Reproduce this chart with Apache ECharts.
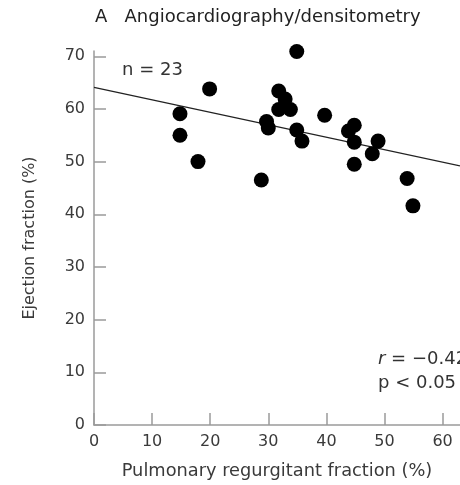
<!DOCTYPE html>
<html>
<head>
<meta charset="utf-8">
<script src="https://cdn.jsdelivr.net/npm/echarts@6/dist/echarts.min.js"></script>
<style>html,body{margin:0;padding:0;background:#fff}#c{width:460px;height:485px}</style>
</head>
<body>
<div id="c"></div>
<script>
// Pulmonary regurgitant fraction (%)
const prf = [19.9, 34.9, 14.8, 14.8, 17.9, 31.8, 32.9, 31.8, 33.8, 29.7, 30.0, 34.9, 35.8, 39.7, 44.8, 43.8, 44.8, 48.9, 47.9, 44.8, 53.9, 28.8, 54.9];
// Ejection fraction (%)
const ef  = [63.8, 70.9, 59.1, 55.0, 50.0, 63.4, 61.9, 59.9, 59.9, 57.6, 56.4, 56.0, 53.9, 58.8, 56.9, 55.8, 53.7, 53.9, 51.5, 49.5, 46.8, 46.5, 41.6];
// Regression line endpoints
const fitX = [0, 63];
const fitY = [64.1, 49.2];
const xTicks = [0, 10, 20, 30, 40, 50, 60];
const yTicks = [0, 10, 20, 30, 40, 50, 60, 70];

const FONT = 'DejaVu Sans';
const chart = echarts.init(document.getElementById('c'), null, {renderer: 'canvas'});
const axisCol = '#9a9a9a';
const txtCol = '#3a3a3a';
chart.setOption({
  animation: false,
  backgroundColor: '#fff',
  textStyle: {fontFamily: FONT},
  grid: {left: 94, right: 0, top: 51, bottom: 59, containLabel: false},
  xAxis: {
    type: 'value', min: 0, max: 63, interval: 10,
    name: 'Pulmonary regurgitant fraction (%)', nameLocation: 'middle', nameGap: 37,
    nameTextStyle: {fontFamily: FONT, fontSize: 17.8, color: txtCol},
    axisLine: {lineStyle: {color: axisCol, width: 1.5}},
    axisTick: {inside: true, length: 12, customValues: xTicks, lineStyle: {color: axisCol, width: 1.5}},
    axisLabel: {fontFamily: FONT, fontSize: 16, color: txtCol, margin: 9, customValues: xTicks,
      formatter: v => xTicks.includes(v) ? String(v) : ''},
    splitLine: {show: false}
  },
  yAxis: {
    type: 'value', min: 0, max: 71, interval: 10,
    name: 'Ejection fraction (%)', nameLocation: 'middle', nameGap: 56, nameRotate: 90,
    nameTextStyle: {fontFamily: FONT, fontSize: 16, color: txtCol},
    axisLine: {lineStyle: {color: axisCol, width: 1.5}},
    axisTick: {inside: true, length: 12, customValues: yTicks, lineStyle: {color: axisCol, width: 1.5}},
    axisLabel: {fontFamily: FONT, fontSize: 16, color: txtCol, margin: 9, customValues: yTicks,
      formatter: v => yTicks.includes(v) ? String(v) : ''},
    splitLine: {show: false}
  },
  graphic: [
    {type: 'text', left: 95, top: 8, style: {text: 'A   Angiocardiography/densitometry', font: '18px "DejaVu Sans"', fill: '#222'}},
    {type: 'text', left: 122, top: 61, style: {text: 'n = 23', font: '18px "DejaVu Sans"', fill: '#333'}},
    {type: 'text', left: 378, top: 350, style: {text: '{i|r} = −0.42', rich: {i: {fontStyle: 'italic', fontFamily: FONT, fontSize: 18, fill: '#333'}}, font: '18px "DejaVu Sans"', fill: '#333'}},
    {type: 'text', left: 378, top: 374, style: {text: 'p < 0.05', font: '18px "DejaVu Sans"', fill: '#333'}}
  ],
  series: [
    {type: 'line', data: fitX.map((x, i) => [x, fitY[i]]), symbol: 'none', lineStyle: {color: '#222', width: 1.3}, z: 1},
    {type: 'scatter', data: prf.map((x, i) => [x, ef[i]]), symbolSize: 15, clip: false, itemStyle: {color: '#000', opacity: 1}, z: 2}
  ]
});
</script>
</body>
</html>
